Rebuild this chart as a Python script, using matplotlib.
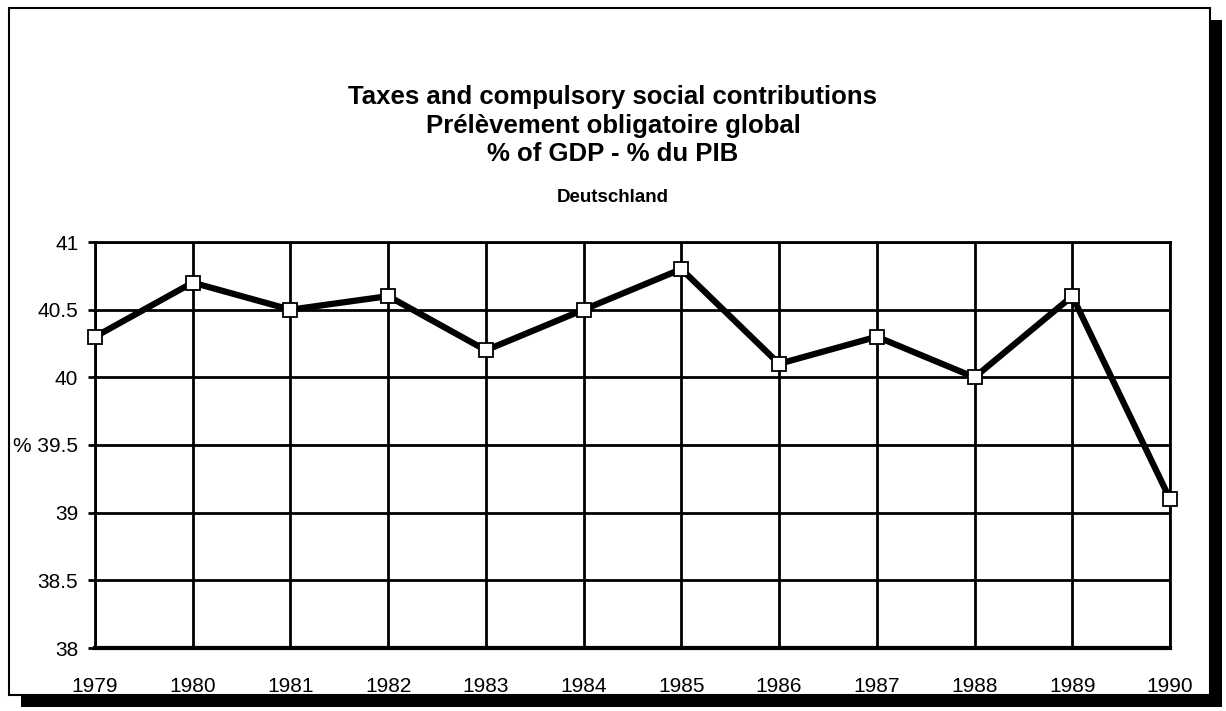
import matplotlib.pyplot as plt
from matplotlib.patches import Rectangle

years = [1979, 1980, 1981, 1982, 1983, 1984, 1985, 1986, 1987, 1988, 1989, 1990]
values = [40.3, 40.7, 40.5, 40.6, 40.2, 40.5, 40.8, 40.1, 40.3, 40.0, 40.6, 39.1]
yticks = [38, 38.5, 39, 39.5, 40, 40.5, 41]
ytick_labels = ['38', '38.5', '39', '% 39.5', '40', '40.5', '41']

plt.rcParams['font.family'] = ['Liberation Sans', 'DejaVu Sans']

W, H = 1226, 711
fig = plt.figure(figsize=(W / 100, H / 100), dpi=100)

# frame with drop shadow
fig.patches.append(Rectangle((21 / W, 4 / H), 1201 / W, 687 / H, transform=fig.transFigure,
                             facecolor='black', edgecolor='none', zorder=0))
fig.patches.append(Rectangle((9 / W, 16 / H), 1201 / W, 687 / H, transform=fig.transFigure,
                             facecolor='white', edgecolor='black', linewidth=1.5, zorder=1))

ax = fig.add_axes([95 / W, 63 / H, 1075 / W, 406 / H])
ax.set_zorder(2)
ax.patch.set_alpha(0)

ax.plot(years, values, color='black', linewidth=4.5, marker='s', markersize=10,
        markerfacecolor='white', markeredgecolor='black', markeredgewidth=1.3, zorder=5,
        clip_on=False)

ax.set_xlim(years[0], years[-1])
ax.set_ylim(38, 41)
ax.set_xticks(years)
ax.set_xticklabels([str(y) for y in years], fontsize=15)
ax.set_yticks(yticks)
ax.set_yticklabels(ytick_labels, fontsize=15)
ax.grid(True, color='black', linewidth=2)
ax.tick_params(axis='y', length=5, width=2, pad=7)
ax.tick_params(axis='x', length=0, pad=21)
for s in ax.spines.values():
    s.set_linewidth(2)
ax.spines['bottom'].set_linewidth(3)

fig.text(0.5, 1 - 97 / H, 'Taxes and compulsory social contributions', ha='center', va='center',
         fontsize=18.5, fontweight='bold')
fig.text(0.5, 1 - 126 / H, 'Prélèvement obligatoire global', ha='center', va='center',
         fontsize=18.5, fontweight='bold')
fig.text(0.5, 1 - 154 / H, '% of GDP - % du PIB', ha='center', va='center',
         fontsize=18.5, fontweight='bold')
fig.text(0.5, 1 - 197 / H, 'Deutschland', ha='center', va='center',
         fontsize=13.5, fontweight='bold')

fig.savefig('out.png', dpi=100)
